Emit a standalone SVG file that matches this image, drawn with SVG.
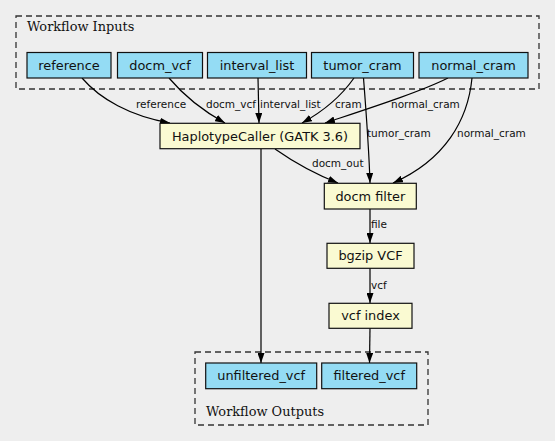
<svg xmlns="http://www.w3.org/2000/svg" width="555" height="441" viewBox="0 0 555 441">
<defs>
<marker id="arr" viewBox="0 0 10 7" markerWidth="10" markerHeight="7" refX="10" refY="3.5" orient="auto" markerUnits="userSpaceOnUse">
<path d="M0,0 L10,3.5 L0,7 z" fill="#000"/>
</marker>
<style>
.cluster{fill:none;stroke:#333;stroke-width:1.3;stroke-dasharray:6,4}
.clabel{font-family:"DejaVu Serif",serif;font-size:12.9px;fill:#111}
.inp{fill:#94dcf4;stroke:#111;stroke-width:1.2}
.step{fill:#fafad2;stroke:#111;stroke-width:1.2}
.nl{font-family:"DejaVu Sans",sans-serif;font-size:12.9px;fill:#111;text-anchor:middle}
.edge{fill:none;stroke:#000;stroke-width:1.2;marker-end:url(#arr)}
.el{font-family:"DejaVu Sans",sans-serif;font-size:10.5px;fill:#111}
</style>
</defs>
<rect width="555" height="441" fill="#eeeeee"/>
<g id="cluster_inputs">
<rect class="cluster" x="16" y="16" width="523" height="73"/>
<text class="clabel" x="27" y="31">Workflow Inputs</text>
</g>
<g id="cluster_outputs">
<rect class="cluster" x="195" y="352" width="233" height="73"/>
<text class="clabel" x="206" y="416">Workflow Outputs</text>
</g>
<g id="connectors">
<path class="edge" d="M82,78 C100,99 130,116 170,123"/>
<path class="edge" d="M169,78 C185,97 205,112 225,123"/>
<path class="edge" d="M258,78 L259,123"/>
<path class="edge" d="M354,78 C340,98 322,112 302,123"/>
<path class="edge" d="M448,78 C420,92 370,108 325,123"/>
<path class="edge" d="M363.5,78 C366,110 369,150 370,183"/>
<path class="edge" d="M472,78 C468,120 445,160 393,183"/>
<path class="edge" d="M275,149 C295,163 315,174 338,183"/>
<path class="edge" d="M261,149 L261,363"/>
<path class="edge" d="M370,209 L370,243"/>
<path class="edge" d="M370,268 L370,303"/>
<path class="edge" d="M370,328 L369.5,363"/>
<text class="el" x="136" y="108">reference</text>
<text class="el" x="206" y="108">docm_vcf</text>
<text class="el" x="260" y="108">interval_list</text>
<text class="el" x="335" y="108">cram</text>
<text class="el" x="391" y="108">normal_cram</text>
<text class="el" x="367" y="137">tumor_cram</text>
<text class="el" x="457" y="137">normal_cram</text>
<text class="el" x="312" y="167">docm_out</text>
<text class="el" x="371" y="228">file</text>
<text class="el" x="371" y="289">vcf</text>
</g>
<g id="reference"><rect class="inp" x="27" y="52.5" width="84" height="25.5"/><text class="nl" x="69" y="69.5">reference</text></g>
<g id="docm_vcf"><rect class="inp" x="117.5" y="52.5" width="85" height="25.5"/><text class="nl" x="160" y="69.5">docm_vcf</text></g>
<g id="interval_list"><rect class="inp" x="207.5" y="52.5" width="99" height="25.5"/><text class="nl" x="257" y="69.5">interval_list</text></g>
<g id="tumor_cram"><rect class="inp" x="311.5" y="52.5" width="102" height="25.5"/><text class="nl" x="362.5" y="69.5">tumor_cram</text></g>
<g id="normal_cram"><rect class="inp" x="419" y="52.5" width="109" height="25.5"/><text class="nl" x="473.5" y="69.5">normal_cram</text></g>
<g id="haplotypecaller"><rect class="step" x="160" y="123.3" width="200" height="25.4"/><text class="nl" x="260" y="140.5">HaplotypeCaller (GATK 3.6)</text></g>
<g id="docm_filter"><rect class="step" x="324.3" y="183.3" width="92" height="25.7"/><text class="nl" x="370.3" y="200.5">docm filter</text></g>
<g id="bgzip_vcf"><rect class="step" x="327" y="243.3" width="87" height="25"/><text class="nl" x="370.5" y="260.3">bgzip VCF</text></g>
<g id="vcf_index"><rect class="step" x="329" y="303.3" width="83" height="25"/><text class="nl" x="370.5" y="320.3">vcf index</text></g>
<g id="unfiltered_vcf"><rect class="inp" x="205.7" y="363" width="111" height="25.7"/><text class="nl" x="261.2" y="380.3">unfiltered_vcf</text></g>
<g id="filtered_vcf"><rect class="inp" x="321.7" y="363" width="95" height="25.7"/><text class="nl" x="369.2" y="380.3">filtered_vcf</text></g>
</svg>
